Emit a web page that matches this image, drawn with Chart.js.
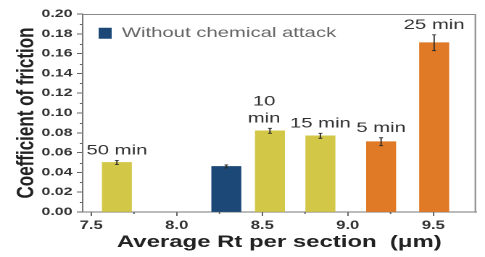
<!DOCTYPE html>
<html><head><meta charset="utf-8">
<script src="https://cdn.jsdelivr.net/npm/chart.js@4.4.1/dist/chart.umd.min.js"></script>
<style>
html,body{margin:0;padding:0;background:#fff;overflow:hidden;}
#wrap{width:485px;height:257px;overflow:hidden;}
#c{transform:scaleX(1.45);transform-origin:0 0;display:block;}
</style></head><body>
<div id="wrap"><canvas id="c" width="335" height="257"></canvas></div>
<script>
// ---- data ----
const roughnessRt = [7.65, 8.29, 8.545, 8.84, 9.195, 9.505];
const frictionCoefficient = [0.050, 0.046, 0.082, 0.077, 0.071, 0.171];
const frictionError = [0.002, 0.0015, 0.0025, 0.0025, 0.004, 0.008];
const attackTimeLabels = [['50 min'], [], ['10', 'min'], ['15 min'], ['5 min'], ['25 min']];
const seriesGroup = ['long', 'none', 'long', 'long', 'short', 'short'];
const legendLabel = 'Without chemical attack';
const xTickValues = [7.5, 8.0, 8.5, 9.0, 9.5];
const xTickLabels = ['7.5', '8.0', '8.5', '9.0', '9.5'];
const xMinorTicks = [7.75, 8.25, 8.75, 9.25];
const yTickValues = [0, 0.02, 0.04, 0.06, 0.08, 0.10, 0.12, 0.14, 0.16, 0.18, 0.20];
const yTickLabels = ['0.00', '0.02', '0.04', '0.06', '0.08', '0.10', '0.12', '0.14', '0.16', '0.18', '0.20'];
const yMinorTicks = [0.01, 0.03, 0.05, 0.07, 0.09, 0.11, 0.13, 0.15, 0.17, 0.19];

const groupColors = { long: '#d3c747', none: '#1b4877', short: '#e07a27' };
const FONT = '"Liberation Sans", Arial, sans-serif';

const overlayPlugin = {
  id: 'overlay',
  afterDatasetsDraw(chart) {
    const { ctx, scales: { y } } = chart;
    const meta = chart.getDatasetMeta(0);
    ctx.save();
    ctx.strokeStyle = '#2a2a2a';
    ctx.lineWidth = 0.9;
    meta.data.forEach((bar, i) => {
      const cx = bar.x;
      const yTop = y.getPixelForValue(frictionCoefficient[i] + frictionError[i]);
      const yBot = y.getPixelForValue(frictionCoefficient[i] - frictionError[i]);
      ctx.beginPath();
      ctx.moveTo(cx, yTop); ctx.lineTo(cx, yBot);
      ctx.moveTo(cx - 1.3, yTop); ctx.lineTo(cx + 1.3, yTop);
      ctx.moveTo(cx - 1.3, yBot); ctx.lineTo(cx + 1.3, yBot);
      ctx.stroke();
      const lines = attackTimeLabels[i];
      ctx.fillStyle = '#333';
      ctx.font = '14px ' + FONT;
      ctx.textAlign = 'center';
      ctx.textBaseline = 'alphabetic';
      let by = yTop - 6;
      for (let k = lines.length - 1; k >= 0; k--) {
        ctx.fillText(lines[k], cx - (lines.length > 1 ? 4 : 0), by);
        by -= 17;
      }
    });
    ctx.restore();
  },
  afterDraw(chart) {
    const { ctx, chartArea: a, scales: { x, y } } = chart;
    ctx.save();
    ctx.strokeStyle = '#8a8a8a';
    ctx.lineWidth = 1;
    ctx.beginPath();
    ctx.moveTo(a.left, a.top + 0.5); ctx.lineTo(a.right, a.top + 0.5);
    ctx.moveTo(a.right - 0.5, a.top); ctx.lineTo(a.right - 0.5, a.bottom);
    ctx.stroke();
    ctx.strokeStyle = '#666';
    ctx.beginPath();
    xMinorTicks.forEach(v => {
      const px = x.getPixelForValue(v);
      ctx.moveTo(px, a.bottom); ctx.lineTo(px, a.bottom + 2);
    });
    yMinorTicks.forEach(v => {
      const py = Math.round(y.getPixelForValue(v)) + 0.5;
      ctx.moveTo(a.left - 2, py); ctx.lineTo(a.left, py);
    });
    ctx.stroke();
    ctx.restore();
  }
};

new Chart(document.getElementById('c'), {
  type: 'bar',
  data: {
    datasets: [{
      label: legendLabel,
      data: roughnessRt.map((rt, i) => ({ x: rt, y: frictionCoefficient[i] })),
      backgroundColor: seriesGroup.map(g => groupColors[g]),
      borderWidth: 0,
      barThickness: 20
    }]
  },
  options: {
    responsive: false,
    devicePixelRatio: 2,
    animation: false,
    layout: { padding: { top: 14, right: 6.7, bottom: 0, left: 0 } },
    plugins: {
      tooltip: { enabled: false },
      legend: {
        position: 'chartArea',
        align: 'start',
        onClick: null,
        title: { display: true, text: ' ', font: { size: 1 }, padding: { top: 0, bottom: 14 } },
        labels: {
          boxWidth: 9,
          boxHeight: 11,
          padding: 11,
          color: '#333',
          font: { family: FONT, size: 14 },
          generateLabels: () => [{
            text: legendLabel, fillStyle: groupColors.none, strokeStyle: groupColors.none,
            lineWidth: 0, hidden: false, datasetIndex: 0
          }]
        }
      }
    },
    scales: {
      x: {
        type: 'linear',
        min: 7.45, max: 9.75,
        offset: false,
        afterBuildTicks: s => { s.ticks = xTickValues.map(v => ({ value: v })); },
        afterFit: s => { s.height = 45; },
        grid: { display: true, offset: false, drawOnChartArea: false, drawTicks: true, tickLength: 4, tickColor: '#666' },
        border: { display: true, color: '#777', width: 1 },
        ticks: {
          autoSkip: false, maxRotation: 0, padding: 3, color: '#333',
          font: { family: FONT, size: 11.5, weight: 'bold' },
          callback: (v, i) => xTickLabels[i]
        },
        title: {
          display: true, text: 'Average Rt per section  (μm)', color: '#222',
          font: { family: FONT, size: 16.5, weight: 'bold' },
          padding: { top: 0, bottom: 4.5 }
        }
      },
      y: {
        type: 'linear',
        min: 0, max: 0.2,
        afterBuildTicks: s => { s.ticks = yTickValues.map(v => ({ value: v })); },
        afterFit: s => { s.width = 57; },
        grid: { display: true, drawOnChartArea: false, drawTicks: true, tickLength: 4, tickColor: '#666' },
        border: { display: true, color: '#777', width: 1 },
        ticks: {
          padding: 3, color: '#333',
          font: { family: FONT, size: 11, weight: 'bold' },
          callback: (v, i) => yTickLabels[i]
        },
        title: {
          display: true, text: 'Coefficient of friction', color: '#222',
          font: { family: FONT, size: 17, weight: 'bold' },
          padding: { top: 8, bottom: 0 }
        }
      }
    }
  },
  plugins: [overlayPlugin]
});
</script>
</body></html>
